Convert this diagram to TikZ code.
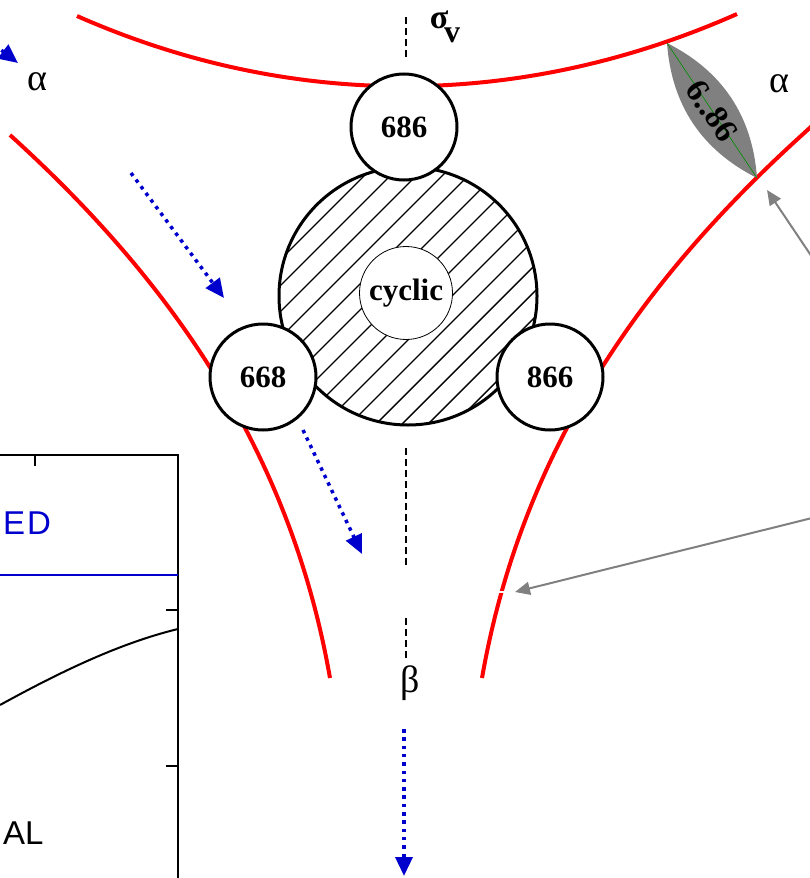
\documentclass[tikz,border=0pt]{standalone}
\usepackage{fontspec}
\setmainfont{Liberation Serif}
\newfontfamily\sansf{Liberation Sans}
\usetikzlibrary{arrows.meta}
\definecolor{myred}{RGB}{255,0,0}
\definecolor{myblue}{RGB}{0,0,205}
\definecolor{mygray}{RGB}{128,128,128}
\definecolor{mygreen}{RGB}{0,140,0}
\begin{document}
\begin{tikzpicture}[x=1pt,y=-1pt,
  redcurve/.style={myred, line width=4pt},
  bluearrow/.style={myblue, line width=3.5pt, dash pattern=on 3.5pt off 4.8pt, -{Triangle[length=19pt,width=17pt]}},
  grayarrow/.style={mygray, line width=2pt, -{Triangle[length=15pt,width=13pt]}},
  mol/.style={circle, draw, line width=3pt, fill=white, minimum size=106pt, inner sep=0pt, font=\fontsize{31}{31}\selectfont\bfseries},
  symline/.style={black, line width=1.2pt, dash pattern=on 7pt off 4pt},
  lbl/.style={inner sep=0pt, font=\fontsize{38}{38}\selectfont},
  graphline/.style={black, line width=1.5pt},
]
\useasboundingbox (0,0) rectangle (810,878);
\clip (0,0) rectangle (810,878);

% red curves
\draw[redcurve] (77,16) .. controls (290,110) and (520,110) .. (737,14);
\draw[redcurve] (10,135) .. controls (170,280) and (290,450) .. (330,678);
\draw[redcurve] (814,124) -- (802,135) .. controls (642,280) and (522,450) .. (482,678);
\draw[white, line width=1.6pt] (497,592) -- (510,592);

% symmetry line
\draw[symline] (406,17) -- (406,57);
\draw[symline] (406,448) -- (406,567);
\draw[symline] (406,618) -- (406,658);

% big hatched circle
\node[circle, draw, line width=3pt, minimum size=258pt, inner sep=0pt] (big) at (408,296) {};
\begin{scope}
  \clip (408,296) circle (129);
  \foreach \c in {514,540,...,904} {
    \draw[line width=1.4pt] (250,{\c-250}) -- (580,{\c-580});
  }
\end{scope}

% small circles
\node[mol] (m686) at (404,127) {686};
\node[mol] (m668) at (263,377) {668};
\node[mol] (m866) at (550,377) {866};
\node[circle, draw, line width=0.8pt, fill=white, minimum size=93pt, inner sep=0pt,
      font=\fontsize{31}{31}\selectfont\bfseries] (cyc) at (406,293) {cyclic};

% lens
\coordinate (lA) at (667,43);
\coordinate (lB) at (757,178);
\fill[mygray] (lA) .. controls (722.5,71) and (752.5,116) .. (lB)
              .. controls (701.5,150) and (671.5,105) .. (lA);
\draw[mygreen, line width=0.6pt] (lA) -- (lB);
\node[rotate=-56.3, inner sep=0pt, font=\fontsize{33}{33}\selectfont\bfseries] (lens) at (712,111) {6..86};

% labels
\node[lbl] (a1) at (37,82) {α};
\node[lbl] (a2) at (779,84) {α};
\node[lbl] (b1) at (410,683) {β};
\node[inner sep=0pt, font=\fontsize{34}{34}\selectfont\bfseries] (sig) at (439,20) {σ};
\node[inner sep=0pt, font=\fontsize{32}{32}\selectfont\bfseries] (sigv) at (452,35) {v};

% blue arrows
\coordinate (p1s) at (-25,30);  \coordinate (p1e) at (18,63);
\coordinate (p2s) at (131,173); \coordinate (p2e) at (224,298);
\coordinate (p3s) at (303,430); \coordinate (p3e) at (362,554);
\coordinate (p4s) at (404,729); \coordinate (p4e) at (404,876);
\draw[bluearrow] (p1s) -- (p1e);
\draw[bluearrow] (p2s) -- (p2e);
\draw[bluearrow] (p3s) -- (p3e);
\draw[bluearrow] (p4s) -- (p4e);

% gray arrows
\coordinate (g1s) at (812,257); \coordinate (g1e) at (767,190);
\coordinate (g2s) at (812,518); \coordinate (g2e) at (515,592);
\draw[grayarrow] (g1s) -- (g1e);
\draw[grayarrow] (g2s) -- (g2e);

% graph fragment
\coordinate (gTL) at (0,455);
\coordinate (gTR) at (178,455);
\coordinate (gBR) at (178,880);
\draw[graphline] (gTL) -- (gTR) -- (gBR);
\draw[graphline] (35,455) -- (35,466);
\draw[graphline] (178,610) -- (166,610);
\draw[graphline] (178,766) -- (166,766);
\draw[myblue, line width=2pt] (0,575) -- (178,575);
\draw[black, line width=2pt] (0,705) .. controls (60,672) and (120,643) .. (178,629);
\node[anchor=west, inner sep=0pt, text=myblue, font=\sansf\fontsize{33}{33}\selectfont] (ed) at (3,523) {E\hspace{2pt}D};
\node[anchor=west, inner sep=0pt, font=\sansf\fontsize{33}{33}\selectfont] (al) at (3,833) {AL};
\end{tikzpicture}
\end{document}
